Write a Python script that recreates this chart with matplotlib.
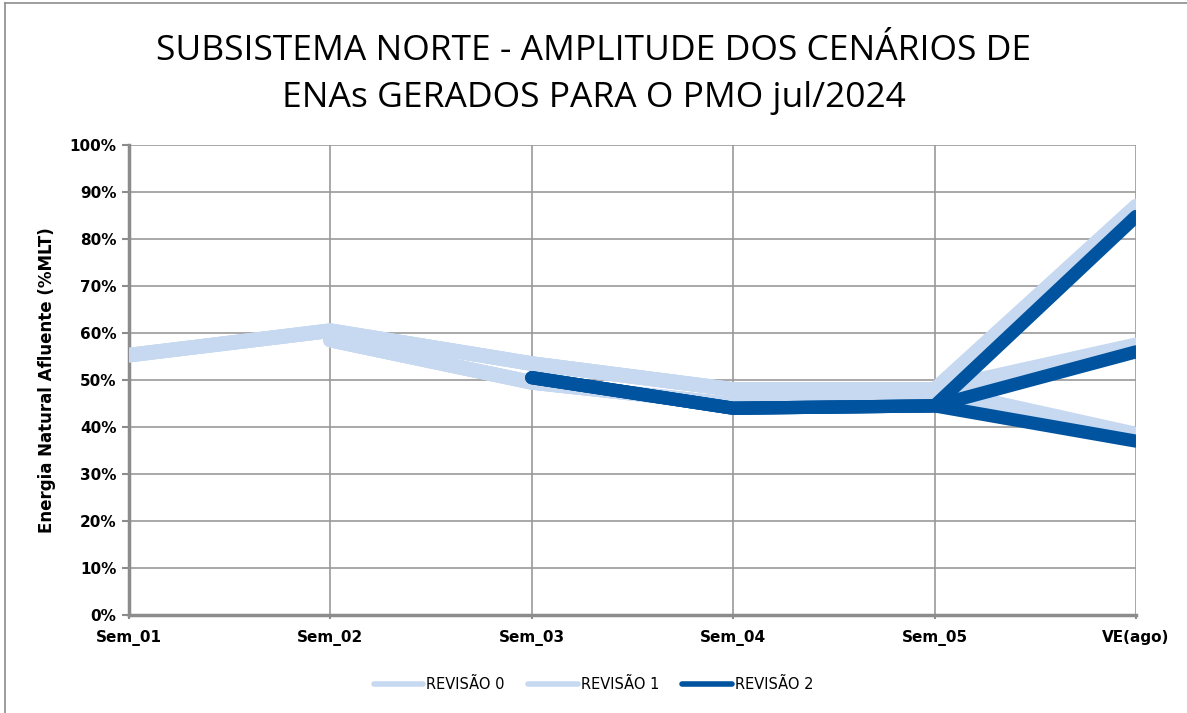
import matplotlib
matplotlib.use("Agg")
import matplotlib.pyplot as plt
from matplotlib.lines import Line2D

categories = ["Sem_01", "Sem_02", "Sem_03", "Sem_04", "Sem_05", "VE(ago)"]

# Revisão 0: common path then three scenarios at VE
rev0_path = [55.3, 60.5, 53.5, 48.0, 48.0]
rev0_ve = [87.0, 57.5, 38.5]
# Revisão 1
rev1_path = [None, 58.5, 49.5, 44.8, 45.0]
rev1_ve = [86.0, 57.0, 38.0]
# Revisão 2
rev2_path = [None, None, 50.5, 44.0, 44.5]
rev2_ve = [84.8, 56.0, 37.0]

yticks = list(range(0, 101, 10))

light = "#C6D9F1"
dark = "#00549F"

fig = plt.figure(figsize=(11.87, 7.13), dpi=100)
# outer border (only top and left edges are visible in the reference)
fig.lines.append(Line2D([0.0045, 0.0045], [0, 0.9958], transform=fig.transFigure,
                        color="#8C8C8C", linewidth=1.2))
fig.lines.append(Line2D([0.0045, 1.0], [0.9958, 0.9958], transform=fig.transFigure,
                        color="#8C8C8C", linewidth=1.2))
ax = fig.add_axes([0.1087, 0.1374, 0.957 - 0.1087, 0.7966 - 0.1374])

x = list(range(len(categories)))


def draw(path, ve, color, lw, label):
    pts = [(i, v) for i, v in enumerate(path) if v is not None]
    xs = [p[0] for p in pts]
    ys = [p[1] for p in pts]
    first = True
    for v in ve:
        ax.plot(xs + [5], ys + [v], color=color, linewidth=lw, solid_capstyle="round",
                solid_joinstyle="miter", label=label if first else None, zorder=3)
        first = False


draw(rev0_path, rev0_ve, light, 10.5, "REVISÃO 0")
draw(rev1_path, rev1_ve, light, 10.5, "REVISÃO 1")
draw(rev2_path, rev2_ve, dark, 9.5, "REVISÃO 2")

ax.set_xlim(0, 5)
ax.set_ylim(0, 100)
ax.set_xticks(x)
ax.set_xticklabels(categories, fontsize=11, fontweight="bold")
ax.set_yticks(yticks)
ax.set_yticklabels([f"{t}%" for t in yticks], fontsize=11, fontweight="bold")
ax.grid(True, color="#999999", linewidth=1.2, zorder=0)
ax.set_axisbelow(True)
for s in ["top", "right"]:
    ax.spines[s].set_visible(False)
for s in ["left", "bottom"]:
    ax.spines[s].set_color("#8C8C8C")
    ax.spines[s].set_linewidth(2.5)
ax.tick_params(axis="y", length=5, width=1.5, color="#8C8C8C", pad=4)
ax.tick_params(axis="x", length=3, width=1.5, color="#8C8C8C", pad=8)
ax.set_ylabel("Energia Natural Afluente (%MLT)", fontsize=12, fontweight="bold", labelpad=10)

fig.text(0.5, 0.896, "SUBSISTEMA NORTE - AMPLITUDE DOS CENÁRIOS DE\nENAs GERADOS PARA O PMO jul/2024",
         ha="center", va="center", fontsize=25.5, linespacing=1.5, family="Open Sans")

leg = fig.legend(loc="center", bbox_to_anchor=(0.5, 0.04), ncol=3, frameon=False,
                 fontsize=10.5, handlelength=3.4, handletextpad=0.2, columnspacing=1.6)
for line in leg.get_lines():
    line.set_linewidth(4)
    line.set_solid_capstyle("round")

fig.savefig("out.png", dpi=100)
